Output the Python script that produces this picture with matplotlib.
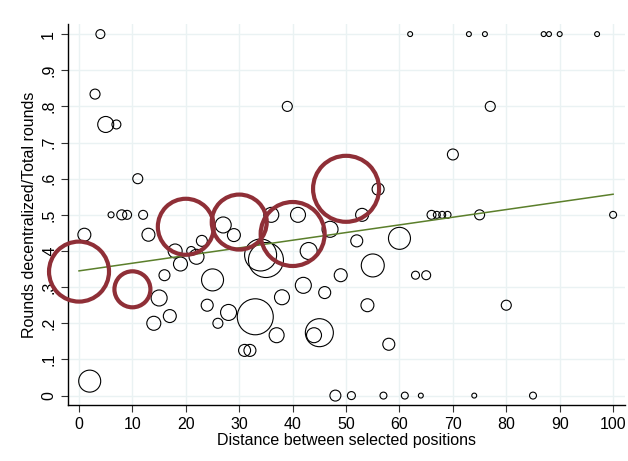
import matplotlib
matplotlib.use("Agg")
import matplotlib.pyplot as plt
import numpy as np

plt.rcParams['font.family'] = ['Liberation Sans', 'DejaVu Sans']

# distance, share of rounds decentralized, weight (marker area)
dist = [4, 3, 5, 7, 11, 39, 62, 56, 73, 76, 87, 88, 90, 97, 77, 70,
        6, 8, 9, 12, 1, 13, 18, 21, 22, 23, 19, 16, 27, 29, 25, 15,
        24, 28, 14, 17, 26, 33, 31, 32, 2, 36, 41, 53, 47, 52, 60, 43,
        34, 35, 55, 49, 63, 65, 42, 46, 38, 54, 37, 44, 45, 58,
        48, 51, 57, 61, 64, 74, 85, 66, 67, 68, 69, 75, 100, 80]
share = [1.0, 0.834, 0.75, 0.75, 0.6, 0.8, 1.0, 0.571, 1.0, 1.0, 1.0, 1.0, 1.0, 1.0, 0.8, 0.667,
         0.5, 0.5, 0.5, 0.5, 0.445, 0.445, 0.4, 0.4, 0.384, 0.428, 0.364, 0.333, 0.472, 0.444, 0.32, 0.27,
         0.25, 0.23, 0.2, 0.22, 0.2, 0.218, 0.125, 0.125, 0.04, 0.5, 0.5, 0.5, 0.46, 0.428, 0.435, 0.4,
         0.389, 0.375, 0.36, 0.333, 0.333, 0.333, 0.305, 0.285, 0.272, 0.25, 0.167, 0.167, 0.174, 0.142,
         0, 0, 0, 0, 0, 0, 0, 0.5, 0.5, 0.5, 0.5, 0.5, 0.5, 0.25]
wt = [20, 25, 64, 20, 25, 25, 6, 36, 6, 6, 6, 6, 6, 6, 25, 30,
      9, 25, 20, 20, 42, 42, 49, 20, 56, 30, 49, 30, 64, 42, 121, 64,
      36, 64, 49, 42, 25, 324, 36, 36, 121, 56, 56, 42, 64, 36, 121, 72,
      256, 306, 132, 42, 16, 20, 64, 36, 56, 42, 56, 56, 196, 36,
      30, 16, 12, 12, 6, 6, 12, 20, 12, 12, 12, 25, 12, 25]

# highlighted observations
hl_dist = [0, 10, 20, 30, 40, 50]
hl_share = [0.343, 0.294, 0.467, 0.48, 0.447, 0.572]
hl_wt = [900, 324, 784, 756, 1024, 1089]

# fitted line
fit_x = [0, 100]
fit_y = [0.345, 0.557]

fig = plt.figure(figsize=(6.28, 4.61), dpi=100)
ax = fig.add_axes([0.1083, 0.1215, 0.8867, 0.8265])

k = (2 * 0.72) ** 2
ax.scatter(dist, share, s=np.array(wt) * k, facecolors='none', edgecolors='black',
           linewidths=0.8, zorder=3)
ax.plot(fit_x, fit_y, color='#5b7f2b', lw=1.1, zorder=4)
ax.scatter(hl_dist, hl_share, s=np.array(hl_wt) * k, facecolors='none',
           edgecolors='#8f2f37', linewidths=3.0, zorder=5, clip_on=False)

ax.set_xlim(-2.06, 102.2)
ax.set_ylim(-0.026, 1.028)
ax.set_xticks(range(0, 101, 10))
yt = [i / 10 for i in range(11)]
ax.set_yticks(yt)
ax.set_yticklabels(['0', '.1', '.2', '.3', '.4', '.5', '.6', '.7', '.8', '.9', '1'],
                   rotation=90, va='center')
ax.tick_params(labelsize=11.5, length=5, width=0.8, color='#333333')
ax.grid(True, color='#eaf2f3', lw=1.0, zorder=0)
ax.set_axisbelow(True)
for sp in ['top', 'right']:
    ax.spines[sp].set_visible(False)
for sp in ['left', 'bottom']:
    ax.spines[sp].set_linewidth(1.0)

ax.set_xlabel('Distance between selected positions', fontsize=11.5, labelpad=1)
ax.set_ylabel('Rounds decentralized/Total rounds', fontsize=11.5, labelpad=3)

fig.savefig('out.png', dpi=100)
